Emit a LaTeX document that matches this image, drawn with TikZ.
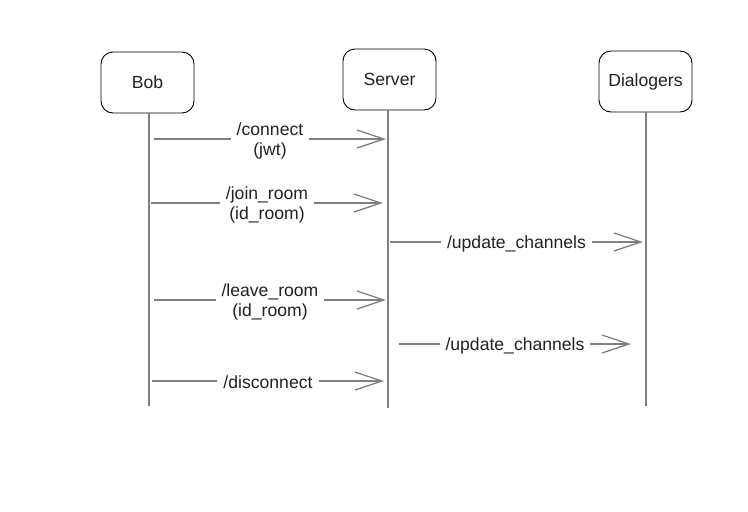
\documentclass[tikz,border=0pt]{standalone}
\usepackage{fontspec}
\setmainfont{Liberation Sans}
\usepackage{xcolor}
\usetikzlibrary{arrows.meta,positioning}
\definecolor{linegray}{HTML}{808080}
\definecolor{textdark}{HTML}{222222}
\tikzset{%
	actor/.style    = {draw, rounded corners=12pt, line width=0.9pt, minimum width=93pt, minimum height=61pt, text centered, text=textdark},
	lifeline/.style = {draw=linegray, line width=1.4pt},
	msg/.style      = {draw=linegray, line width=1.3pt, -{Straight Barb[length=27pt,width=18pt]}},
	msglabel/.style = {fill=white, align=center, inner sep=6pt, yshift=-1.5pt, text=textdark},
	every node/.style = {font=\fontsize{17.6pt}{20pt}\selectfont},
}
\begin{document}
\begin{tikzpicture}[x=1pt,y=-1pt]
	\useasboundingbox (0,0) rectangle (748,512);
	
	% actors
	\node[actor] (bob)       at (147.5,82.5) {Bob};
	\node[actor] (server)    at (389.5,79.5) {Server};
	\node[actor] (dialogers) at (645.5,81.5) {Dialogers};
	
	% lifelines
	\coordinate (bob-end)       at (149,406);
	\coordinate (server-end)    at (388,408);
	\coordinate (dialogers-end) at (646,406);
	\draw[lifeline] (bob.south -| bob-end) -- (bob-end);
	\draw[lifeline] (server.south -| server-end) -- (server-end);
	\draw[lifeline] (dialogers.south -| dialogers-end) -- (dialogers-end);
	
	% messages
	\foreach \name/\xa/\xb/\y/\txt in {%
		connect/154/386/139/{/connect\\(jwt)},
		join/151/383/203/{/join\_room\\(id\_room)},
		updateA/390/643/242/{/update\_channels},
		leave/154/386/300/{/leave\_room\\(id\_room)},
		updateB/399/631/344/{/update\_channels},
		disconnect/152/384/381/{/disconnect}}{
		\coordinate (\name-a) at (\xa,\y);
		\coordinate (\name-b) at (\xb,\y);
		\draw[msg] (\name-a) -- node[msglabel] {\txt} (\name-b);
	}
\end{tikzpicture}
\end{document}
